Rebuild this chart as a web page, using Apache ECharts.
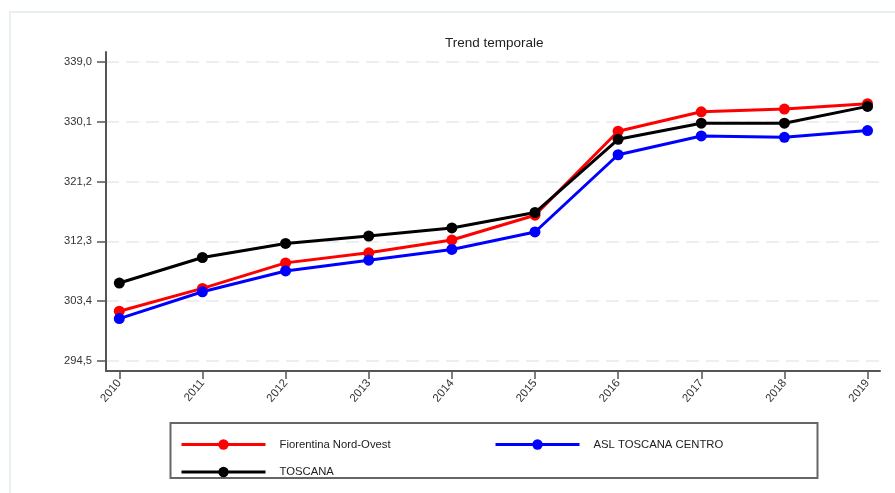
<!DOCTYPE html>
<html>
<head>
<meta charset="utf-8">
<script src="https://cdn.jsdelivr.net/npm/echarts@6/dist/echarts.min.js"></script>
<style>
  html, body { margin: 0; padding: 0; background: #fff; }
  #chart { width: 895px; height: 493px; }
</style>
</head>
<body>
<div id="chart"></div>
<script>
const years = [2010, 2011, 2012, 2013, 2014, 2015, 2016, 2017, 2018, 2019]
const yTicks = [294.5, 303.4, 312.3, 321.2, 330.1, 339.0]
const fiorentina = [301.9, 305.3, 309.1, 310.6, 312.5, 316.2, 328.7, 331.6, 332.0, 332.8]
const aslCentro = [300.8, 304.8, 307.9, 309.5, 311.1, 313.7, 325.2, 328.0, 327.8, 328.8]
const toscana = [306.1, 309.9, 312.0, 313.1, 314.3, 316.6, 327.5, 329.9, 329.9, 332.4]

const font = "'Liberation Sans', Arial, sans-serif"

function makeSeries(name, values, color) {
  return {
    name: name,
    type: 'line',
    data: years.map((y, i) => [y, values[i]]),
    symbol: 'circle',
    symbolSize: 11,
    itemStyle: { color: color },
    lineStyle: { color: color, width: 3 },
    emphasis: { disabled: true }
  }
}

let myChart = echarts.init(document.getElementById('chart'))
let option = {
  animation: false,
  backgroundColor: '#fff',
  title: {
    text: 'Trend temporale',
    left: 440,
    top: 31,
    textStyle: { fontFamily: font, fontSize: 13.5, fontWeight: 'normal', color: '#222' }
  },
  graphic: [
    {
      type: 'rect',
      shape: { x: 10, y: 12, width: 900, height: 500 },
      style: { fill: 'none', stroke: '#e8efef', lineWidth: 2 }
    },
    {
      type: 'rect',
      shape: { x: 170.5, y: 423, width: 647, height: 55 },
      style: { fill: 'none', stroke: '#666', lineWidth: 2 }
    }
  ],
  legend: [
    {
      data: ['Fiorentina Nord-Ovest', 'TOSCANA'],
      orient: 'vertical',
      left: 175,
      top: 434,
      itemWidth: 84,
      itemHeight: 13,
      itemGap: 16.5,
      lineStyle: { width: 3 },
      textStyle: { fontFamily: font, fontSize: 11.3, color: '#222', padding: [0, 0, 0, 9] }
    },
    {
      data: ['ASL TOSCANA CENTRO'],
      orient: 'vertical',
      left: 489,
      top: 434,
      itemWidth: 84,
      itemHeight: 13,
      lineStyle: { width: 3 },
      textStyle: { fontFamily: font, fontSize: 11.3, color: '#222', padding: [0, 0, 0, 9] }
    }
  ],
  grid: { left: 106, right: 15, top: 52, bottom: 122, containLabel: false },
  xAxis: {
    type: 'value',
    min: 2009.84,
    max: 2019.15,
    axisLine: { show: true, lineStyle: { color: '#555', width: 2 } },
    axisTick: { show: true, customValues: years, length: 8, lineStyle: { color: '#555', width: 1.5 } },
    axisLabel: {
      customValues: years,
      rotate: 50,
      margin: 10,
      fontFamily: font,
      fontSize: 11.5,
      color: '#333',
      formatter: v => String(Math.round(v))
    },
    splitLine: { show: false }
  },
  yAxis: {
    type: 'value',
    min: 293.0,
    max: 340.5,
    axisLine: { show: true, lineStyle: { color: '#555', width: 2 } },
    axisTick: { show: true, customValues: yTicks, length: 9, lineStyle: { color: '#555', width: 1.5 } },
    axisLabel: {
      customValues: yTicks,
      margin: 14,
      fontFamily: font,
      fontSize: 11.2,
      color: '#333',
      formatter: v => v.toFixed(1).replace('.', ',')
    },
    splitLine: { show: true, lineStyle: { color: '#e9e9e9', width: 1.5, type: [13, 7] } }
  },
  series: [
    makeSeries('Fiorentina Nord-Ovest', fiorentina, '#ff0000'),
    makeSeries('ASL TOSCANA CENTRO', aslCentro, '#0000ff'),
    makeSeries('TOSCANA', toscana, '#000000')
  ]
}
myChart.setOption(option)
</script>
</body>
</html>
